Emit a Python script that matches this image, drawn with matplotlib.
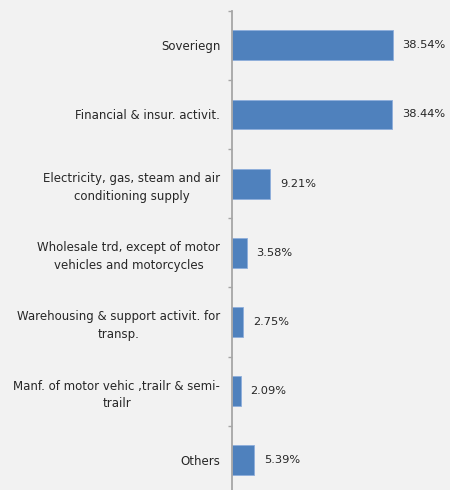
import matplotlib
matplotlib.use("Agg")
import matplotlib.pyplot as plt
import numpy as np

categories = [
    "Soveriegn",
    "Financial & insur. activit.",
    "Electricity, gas, steam and air\nconditioning supply",
    "Wholesale trd, except of motor\nvehicles and motorcycles",
    "Warehousing & support activit. for\ntransp.",
    "Manf. of motor vehic ,trailr & semi-\ntrailr",
    "Others",
]
values = [38.54, 38.44, 9.21, 3.58, 2.75, 2.09, 5.39]
value_labels = ["38.54%", "38.44%", "9.21%", "3.58%", "2.75%", "2.09%", "5.39%"]

bg = "#F2F2F2"
fig = plt.figure(figsize=(4.5, 4.9), dpi=100, facecolor=bg)
ax = fig.add_axes([232 / 450, -4.9 / 490, 1 - 232 / 450, 484.2 / 490])
ax.set_facecolor(bg)

n = len(categories)
pos = np.arange(n)
ax.barh(pos, values, height=0.43, color="#4F81BD", edgecolor="#8EAEDB", linewidth=0.6, zorder=2)
ax.set_ylim(n - 0.5, -0.5)
ax.set_xlim(0, 52.3)

for p, v, lab in zip(pos, values, value_labels):
    ax.text(v + 2.3, p, lab, va="center", ha="left", fontsize=8.2, color="#262626")

for s in ["top", "right", "bottom"]:
    ax.spines[s].set_visible(False)
ax.spines["left"].set_color("#A6A6A6")
ax.spines["left"].set_linewidth(1.3)
ax.set_xticks([])

ax.set_yticks(np.arange(-0.5, n, 1.0))
ax.set_yticklabels([])
ax.tick_params(axis="y", which="major", length=3, width=1, color="#A6A6A6")
ax.set_yticks(pos, minor=True)
ax.set_yticklabels(categories, minor=True, fontsize=8.5, color="#262626", multialignment="center", linespacing=1.45)
ax.tick_params(axis="y", which="minor", length=0, pad=8.5)

fig.savefig("out.png", dpi=100, facecolor=bg)
